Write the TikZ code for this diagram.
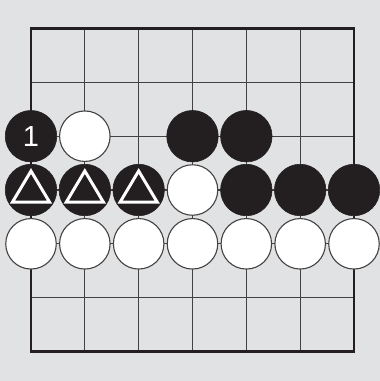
\documentclass[tikz,border=0pt]{standalone}
\usepackage{fontspec}
\setmainfont{Liberation Sans}
\usetikzlibrary{calc}
\definecolor{bg}{HTML}{E1E2E4}
\definecolor{ink}{HTML}{231F20}
\begin{document}
\begin{tikzpicture}[x=1pt,y=-1pt,
  gridline/.style={draw=ink!85,line width=1.1pt},
  edgeline/.style={draw=ink,line width=2.6pt},
  bstone/.style={circle,fill=ink,draw=ink,line width=0.6pt,minimum size=51.5pt,inner sep=0pt},
  wstone/.style={circle,fill=white,draw=ink!85,line width=1.1pt,minimum size=50.5pt,inner sep=0pt},
  tri/.style={draw=white,line width=3pt,line join=miter}]
\fill[bg] (0,0) rectangle (380,381);
\useasboundingbox (0,0) rectangle (380,381);
\def\sp{53.83}
\foreach \i in {1,...,5}{
  \draw[gridline] (31+\i*\sp,28.5) -- (31+\i*\sp,351.3);
  \draw[gridline] (31,28.5+\i*\sp) -- (354,28.5+\i*\sp);
}
\draw[edgeline] (31,28.5) rectangle (354,351.3);
% row 3 (index 2)
\node[bstone] (b1) at (31,136.2) {};
\node[text=white,font=\fontsize{29}{29}\selectfont] (n1) at (b1) {1};
\node[wstone] (w1) at (31+\sp,136.2) {};
\node[bstone] (b2) at (31+3*\sp,136.2) {};
\node[bstone] (b3) at (31+4*\sp,136.2) {};
% row 4 (index 3)
\foreach \c/\n in {0/t0,1/t1,2/t2}{
  \node[bstone] (\n) at (31+\c*\sp,190) {};
  \draw[tri] ($(\n)+(0,-19)$) -- ($(\n)+(18.5,12)$) -- ($(\n)+(-18.5,12)$) -- cycle;
}
\node[wstone] (w2) at (31+3*\sp,190) {};
\foreach \c/\n in {4/b4,5/b5,6/b6}{
  \node[bstone] (\n) at (31+\c*\sp,190) {};
}
% row 5 (index 4)
\foreach \c in {0,...,6}{
  \node[wstone] (r\c) at (31+\c*\sp,243.8) {};
}
\end{tikzpicture}
\end{document}
